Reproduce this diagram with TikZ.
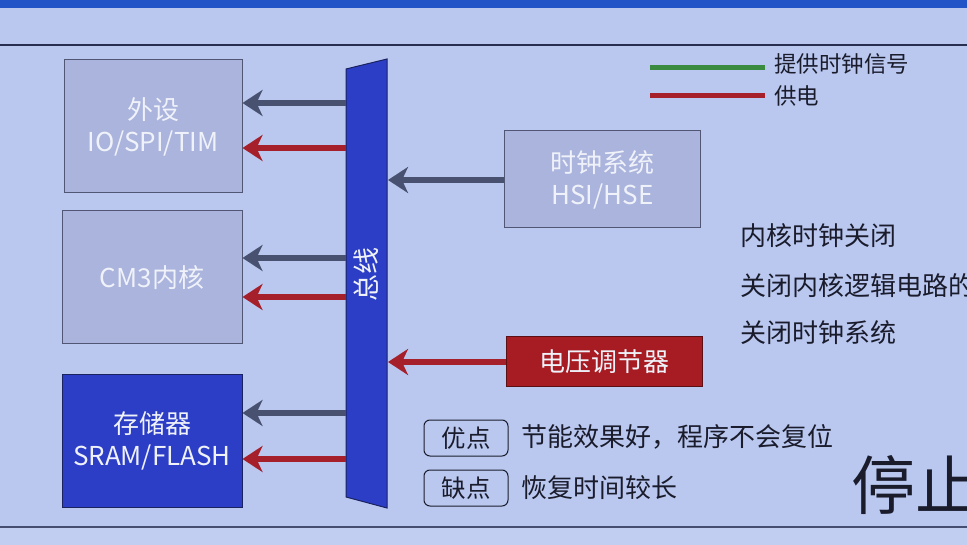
\documentclass[tikz,border=0pt]{standalone}
\usepackage{fontspec}
\setmainfont{Noto Sans CJK SC}
\usetikzlibrary{arrows.meta}
\definecolor{bgc}{RGB}{186,200,240}
\definecolor{grayfill}{RGB}{170,180,220}
\definecolor{grayedge}{RGB}{80,86,115}
\definecolor{bluefill}{RGB}{44,62,198}
\definecolor{blueedge}{RGB}{26,34,96}
\definecolor{arrgray}{RGB}{72,82,112}
\definecolor{arrred}{RGB}{165,32,42}
\definecolor{redfill}{RGB}{166,28,34}
\definecolor{rededge}{RGB}{90,16,20}
\definecolor{legreen}{RGB}{58,138,64}
\definecolor{txt}{RGB}{26,28,44}
\definecolor{boxtxt}{RGB}{240,242,250}
\definecolor{topband}{RGB}{34,84,200}
\definecolor{rule}{RGB}{40,46,80}
\tikzset{
  graybox/.style={draw=grayedge, line width=1pt, fill=grayfill, text=boxtxt, align=center, font=\fontsize{26}{32}\selectfont, inner sep=0pt},
  bluebox/.style={draw=blueedge, line width=1pt, fill=bluefill, text=boxtxt, align=center, font=\fontsize{26}{32}\selectfont, inner sep=0pt},
  redbox/.style={draw=rededge, line width=1pt, fill=redfill, text=boxtxt, align=center, font=\fontsize{26}{32}\selectfont, inner sep=0pt},
  garrow/.style={draw=arrgray, line width=6pt, -{Stealth[length=20pt,width=26pt,inset=6pt]}},
  rarrow/.style={draw=arrred, line width=6pt, -{Stealth[length=20pt,width=26pt,inset=6pt]}},
  bodytext/.style={text=txt, font=\fontsize{26}{30}\selectfont, anchor=west, inner sep=0pt},
  legtext/.style={text=txt, font=\fontsize{22.5}{26}\selectfont, anchor=west, inner sep=0pt},
  tagbox/.style={draw=txt, line width=1pt, rounded corners=6pt, text=txt, font=\fontsize{24.5}{28}\selectfont, minimum width=84pt, minimum height=36pt, inner sep=0pt}
}
\begin{document}
\begin{tikzpicture}[x=1pt,y=-1pt]
\useasboundingbox (0,0) rectangle (967,545);
\clip (0,0) rectangle (967,545);
\fill[bgc] (0,0) rectangle (967,545);
\fill[topband] (0,0) rectangle (967,8);
\draw[rule, line width=2pt] (0,45) -- (967,45);
\draw[rule!80!bgc, line width=2pt] (0,527) -- (967,527);
\fill[bgc!90!white] (0,528) rectangle (967,545);

% left boxes
\node[graybox, minimum width=178pt, minimum height=133pt] (periph) at (153,126.5) {外设\\IO/SPI/TIM};
\node[graybox, minimum width=180pt, minimum height=133pt] (core) at (152,277.5) {CM3内核};
\node[bluebox, minimum width=180pt, minimum height=132pt] (mem) at (152,441) {存储器\\SRAM/FLASH};

% bus
\draw[blueedge, line width=1pt, fill=bluefill] (346,69) -- (387,59) -- (387,508) -- (346,497) -- cycle;
\node[text=boxtxt, font=\fontsize{27}{30}\selectfont, rotate=90, inner sep=0pt] (bus) at (366,275) {总线};
\coordinate (busL1) at (346,103);
\coordinate (busL2) at (346,148);
\coordinate (busL3) at (346,258);
\coordinate (busL4) at (346,297);
\coordinate (busL5) at (346,413);
\coordinate (busL6) at (346,459);
\coordinate (busR1) at (388,180);
\coordinate (busR2) at (388,362);

% right boxes
\node[graybox, minimum width=196pt, minimum height=97pt] (clk) at (602.5,179.5) {时钟系统\\HSI/HSE};
\node[redbox, minimum width=196pt, minimum height=50pt] (vreg) at (604,362) {电压调节器};

% arrows
\draw[garrow] (busL1) -- (periph.east |- busL1);
\draw[rarrow] (busL2) -- (periph.east |- busL2);
\draw[garrow] (busL3) -- (core.east |- busL3);
\draw[rarrow] (busL4) -- (core.east |- busL4);
\draw[garrow] (busL5) -- (mem.east |- busL5);
\draw[rarrow] (busL6) -- (mem.east |- busL6);
\draw[garrow] (clk.west |- busR1) -- (busR1);
\draw[rarrow] (vreg.west |- busR2) -- (busR2);

% legend
\coordinate (lg1a) at (650,68);
\coordinate (lg1b) at (765,68);
\coordinate (lg2a) at (650,96);
\coordinate (lg2b) at (765,96);
\draw[legreen, line width=5pt] (lg1a) -- (lg1b);
\draw[arrred, line width=5pt] (lg2a) -- (lg2b);
\node[legtext] (leg1) at (774,64) {提供时钟信号};
\node[legtext] (leg2) at (774,96) {供电};

% notes
\node[bodytext] (n1) at (740,236) {内核时钟关闭};
\node[bodytext] (n2) at (740,286) {关闭内核逻辑电路的};
\node[bodytext] (n3) at (740,333) {关闭时钟系统};

% pros/cons
\node[tagbox] (pro) at (466,438) {优点};
\node[tagbox] (con) at (466,488) {缺点};
\node[bodytext] (protext) at (521,437) {节能效果好，程序不会复位};
\node[bodytext] (context) at (521,488) {恢复时间较长};

% title
\node[text=txt, font=\fontsize{64}{70}\selectfont, anchor=west, inner sep=0pt] (title) at (851,485) {停止};
\end{tikzpicture}
\end{document}
